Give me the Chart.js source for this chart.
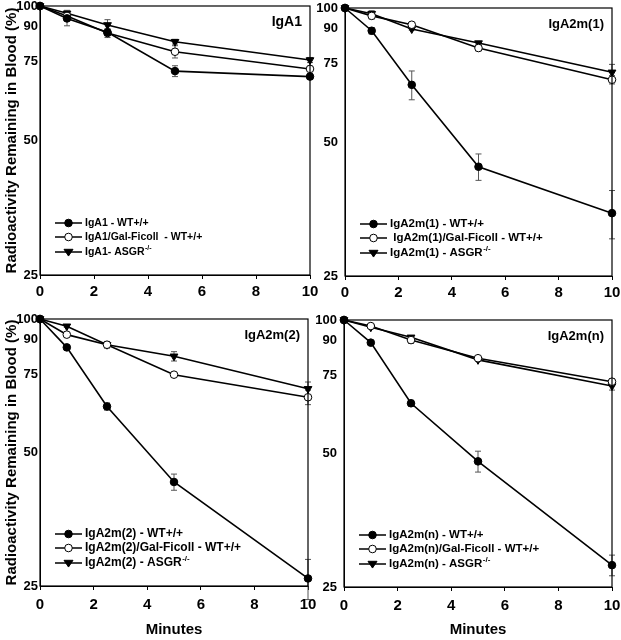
<!DOCTYPE html>
<html>
<head>
<meta charset="utf-8">
<script src="https://cdn.jsdelivr.net/npm/chart.js@4/dist/chart.umd.min.js"></script>
<style>
body { margin: 0; background: #fff; }
.box { position: absolute; }
</style>
</head>
<body>
<div class="box" style="left:0;top:0;width:318px;height:310px"><canvas id="c1"></canvas></div>
<div class="box" style="left:310px;top:0;width:311px;height:310px"><canvas id="c2"></canvas></div>
<div class="box" style="left:0;top:310px;width:318px;height:330px"><canvas id="c3"></canvas></div>
<div class="box" style="left:310px;top:310px;width:311px;height:330px"><canvas id="c4"></canvas></div>
<script>
const FONT = 'Arial, "Liberation Sans", sans-serif';

const minutes = [0, 1, 2.5, 5, 10];
const yTicks = [25, 50, 75, 90, 100];

// IgA1
const iga1Wt = [100, 93.8, 87.3, 71.5, 69.5];
const iga1Gal = [100, 95.0, 87.0, 79.0, 72.3];
const iga1Asgr = [100, 96.3, 90.7, 83.2, 75.7];
const iga1WtErr = [0, 3.5, 1, 2, 1];
const iga1GalErr = [0, 1, 2, 2.5, 1];
const iga1AsgrErr = [0, 1.5, 2.5, 1, 1];
const iga1Labels = ["IgA1 - WT+/+", "IgA1/Gal-Ficoll  - WT+/+", "IgA1- ASGR^-/-"];

// IgA2m(1)
const iga2m1Wt = [100, 88.9, 67.2, 44.0, 34.6];
const iga2m1Gal = [100, 96.0, 91.7, 81.3, 69.0];
const iga2m1Asgr = [100, 97.1, 89.7, 83.4, 71.7];
const iga2m1WtErr = [0, 1.5, 5, 3, 4.3];
const iga2m1GalErr = [0, 1.5, 0.5, 1.2, 1.5];
const iga2m1AsgrErr = [0, 1.5, 0.5, 0.5, 3];
const iga2m1Labels = ["IgA2m(1) - WT+/+", " IgA2m(1)/Gal-Ficoll - WT+/+", "IgA2m(1) - ASGR^-/-"];

// IgA2m(2)
const iga2m2Wt = [100, 86.3, 63.5, 42.9, 26.0];
const iga2m2Gal = [100, 92.2, 87.5, 74.9, 66.6];
const iga2m2Asgr = [100, 96.3, 87.5, 82.4, 69.6];
const iga2m2WtErr = [0, 0.5, 1.2, 1.8, 2.7];
const iga2m2GalErr = [0, 0.5, 1, 0.5, 2.5];
const iga2m2AsgrErr = [0, 0.5, 1.5, 2, 2.5];
const iga2m2Labels = ["IgA2m(2) - WT+/+", "IgA2m(2)/Gal-Ficoll - WT+/+", "IgA2m(2) - ASGR^-/-"];

// IgA2m(n)
const iga2mnWt = [100, 88.9, 64.9, 48.0, 28.0];
const iga2mnGal = [100, 96.9, 90.1, 82.0, 72.6];
const iga2mnAsgr = [100, 96.3, 91.4, 81.3, 71.0];
const iga2mnWtErr = [0, 0.5, 1, 2.6, 1.5];
const iga2mnGalErr = [0, 0.5, 1.5, 0.5, 1.2];
const iga2mnAsgrErr = [0, 0.5, 0.5, 0.5, 1.5];
const iga2mnLabels = ["IgA2m(n) - WT+/+", "IgA2m(n)/Gal-Ficoll - WT+/+", "IgA2m(n) - ASGR^-/-"];

function toPoints(vals) {
  return vals.map((v, i) => ({ x: minutes[i], y: v }));
}

function drawMarker(ctx, kind, x, y) {
  ctx.save();
  ctx.lineWidth = 1;
  ctx.strokeStyle = '#000';
  ctx.beginPath();
  if (kind === 2) {
    const r = 4.5;
    ctx.moveTo(x - r, y - r * 0.6);
    ctx.lineTo(x + r, y - r * 0.6);
    ctx.lineTo(x, y + r * 0.9);
    ctx.closePath();
    ctx.fillStyle = '#000';
  } else {
    ctx.arc(x, y, 3.8, 0, Math.PI * 2);
    ctx.fillStyle = kind === 0 ? '#000' : '#fff';
  }
  ctx.fill();
  ctx.stroke();
  ctx.restore();
}

const panelPlugin = {
  id: 'panelStuff',
  beforeDatasetsDraw(chart) {
    const ctx = chart.ctx;
    const xs = chart.scales.x, ys = chart.scales.y;
    ctx.save();
    ctx.strokeStyle = '#555';
    ctx.lineWidth = 1;
    chart.data.datasets.forEach(ds => {
      ds.err.forEach((e, i) => {
        if (!e) return;
        const px = xs.getPixelForValue(minutes[i]);
        const y1 = ys.getPixelForValue(ds.raw[i] + e);
        const y2 = ys.getPixelForValue(ds.raw[i] - e);
        ctx.beginPath();
        ctx.moveTo(px, y1); ctx.lineTo(px, y2);
        ctx.moveTo(px - 3, y1); ctx.lineTo(px + 3, y1);
        ctx.moveTo(px - 3, y2); ctx.lineTo(px + 3, y2);
        ctx.stroke();
      });
    });
    ctx.restore();
  },
  afterDraw(chart) {
    const ctx = chart.ctx;
    const a = chart.chartArea;
    const o = chart.options.plugins.panelStuff;
    ctx.save();
    ctx.strokeStyle = '#000';
    ctx.lineWidth = 1.2;
    ctx.strokeRect(a.left, a.top, a.right - a.left, a.bottom - a.top);

    // panel name
    ctx.fillStyle = '#000';
    ctx.font = 'bold ' + o.titleSize + 'px ' + FONT;
    ctx.textAlign = 'right';
    ctx.textBaseline = 'middle';
    ctx.fillText(o.title, a.right - 8, a.top + 16);

    // legend
    const rows = [52, 38, 23];
    chart.data.datasets.forEach((ds, k) => {
      const y = a.bottom - rows[k];
      ctx.strokeStyle = '#000';
      ctx.lineWidth = 1.5;
      ctx.beginPath();
      ctx.moveTo(a.left + 15, y);
      ctx.lineTo(a.left + 42, y);
      ctx.stroke();
      drawMarker(ctx, k, a.left + 28.5, y);
      const parts = ds.label.split('^');
      ctx.textAlign = 'left';
      ctx.font = 'bold ' + o.legendSize + 'px ' + FONT;
      ctx.fillText(parts[0], a.left + 45, y);
      if (parts[1]) {
        const w = ctx.measureText(parts[0]).width;
        ctx.font = 'bold ' + Math.round(o.legendSize * 0.7) + 'px ' + FONT;
        ctx.fillText(parts[1], a.left + 45 + w + 0.5, y - 4);
      }
    });
    ctx.restore();
  }
};

function makeChart(id, p) {
  const styles = [
    { pointStyle: 'circle', pointBackgroundColor: '#000', pointRadius: 3.8, pointRotation: 0 },
    { pointStyle: 'circle', pointBackgroundColor: '#fff', pointRadius: 3.8, pointRotation: 0 },
    { pointStyle: 'triangle', pointBackgroundColor: '#000', pointRadius: 4.5, pointRotation: 180 }
  ];
  const datasets = p.series.map((s, k) => Object.assign({
    label: p.labels[k],
    data: toPoints(s),
    raw: s,
    err: p.errs[k],
    borderColor: '#000',
    borderWidth: 1.6,
    pointBorderColor: '#000',
    pointBorderWidth: 1,
    tension: 0,
    clip: false
  }, styles[k]));

  new Chart(document.getElementById(id), {
    type: 'line',
    data: { datasets },
    plugins: [panelPlugin],
    options: {
      responsive: true,
      maintainAspectRatio: false,
      animation: false,
      layout: { padding: { top: p.padTop, right: p.padRight, left: 0, bottom: 0 } },
      plugins: {
        legend: { display: false },
        tooltip: { enabled: false },
        panelStuff: { title: p.title, titleSize: p.titleSize, legendSize: p.legendSize }
      },
      scales: {
        x: {
          type: 'linear',
          min: 0,
          max: 10,
          ticks: { stepSize: 2, color: '#000', font: { family: FONT, size: 15, weight: 'bold' }, padding: p.xTickPad, maxRotation: 0 },
          grid: { drawOnChartArea: false, tickLength: 4, color: '#000' },
          border: { color: '#000' },
          title: { display: p.xTitle, text: 'Minutes', color: '#000', font: { family: FONT, size: 15, weight: 'bold' }, padding: { top: 0, bottom: 1 } },
          afterFit(scale) {
            scale.height = p.xHeight;
            scale.paddingLeft = 0;
            scale.paddingRight = 0;
          }
        },
        y: {
          type: 'logarithmic',
          min: 25,
          max: 100,
          afterBuildTicks(scale) {
            scale.ticks = yTicks.map(v => ({ value: v }));
          },
          ticks: { color: '#000', font: { family: FONT, size: 13, weight: 'bold' }, padding: p.yTickPad, callback: v => String(v) },
          grid: { drawOnChartArea: false, drawTicks: false, color: '#000' },
          border: { color: '#000' },
          title: { display: p.yTitle, text: 'Radioactivity Remaining in Blood (%)', color: '#000', font: { family: FONT, size: 15, weight: 'bold' }, padding: { top: 3, bottom: 0 } },
          afterFit(scale) {
            scale.width = p.yWidth;
            scale.paddingTop = 0;
            scale.paddingBottom = 0;
          }
        }
      }
    }
  });
}

makeChart('c1', {
  title: 'IgA1', titleSize: 14, legendSize: 10.5, labels: iga1Labels,
  series: [iga1Wt, iga1Gal, iga1Asgr], errs: [iga1WtErr, iga1GalErr, iga1AsgrErr],
  yWidth: 40, xHeight: 35, padTop: 6, padRight: 8, yTitle: true, xTitle: false, xTickPad: 4, yTickPad: 2
});
makeChart('c2', {
  title: 'IgA2m(1)', titleSize: 13, legendSize: 11.5, labels: iga2m1Labels,
  series: [iga2m1Wt, iga2m1Gal, iga2m1Asgr], errs: [iga2m1WtErr, iga2m1GalErr, iga2m1AsgrErr],
  yWidth: 35, xHeight: 34, padTop: 8, padRight: 9, yTitle: false, xTitle: false, xTickPad: 4, yTickPad: 7
});
makeChart('c3', {
  title: 'IgA2m(2)', titleSize: 13, legendSize: 12, labels: iga2m2Labels,
  series: [iga2m2Wt, iga2m2Gal, iga2m2Asgr], errs: [iga2m2WtErr, iga2m2GalErr, iga2m2AsgrErr],
  yWidth: 40, xHeight: 54, padTop: 9, padRight: 10, yTitle: true, xTitle: true, xTickPad: 6, yTickPad: 2
});
makeChart('c4', {
  title: 'IgA2m(n)', titleSize: 13, legendSize: 11.5, labels: iga2mnLabels,
  series: [iga2mnWt, iga2mnGal, iga2mnAsgr], errs: [iga2mnWtErr, iga2mnGalErr, iga2mnAsgrErr],
  yWidth: 34, xHeight: 53, padTop: 10, padRight: 9, yTitle: false, xTitle: true, xTickPad: 6, yTickPad: 7
});
</script>
</body>
</html>
